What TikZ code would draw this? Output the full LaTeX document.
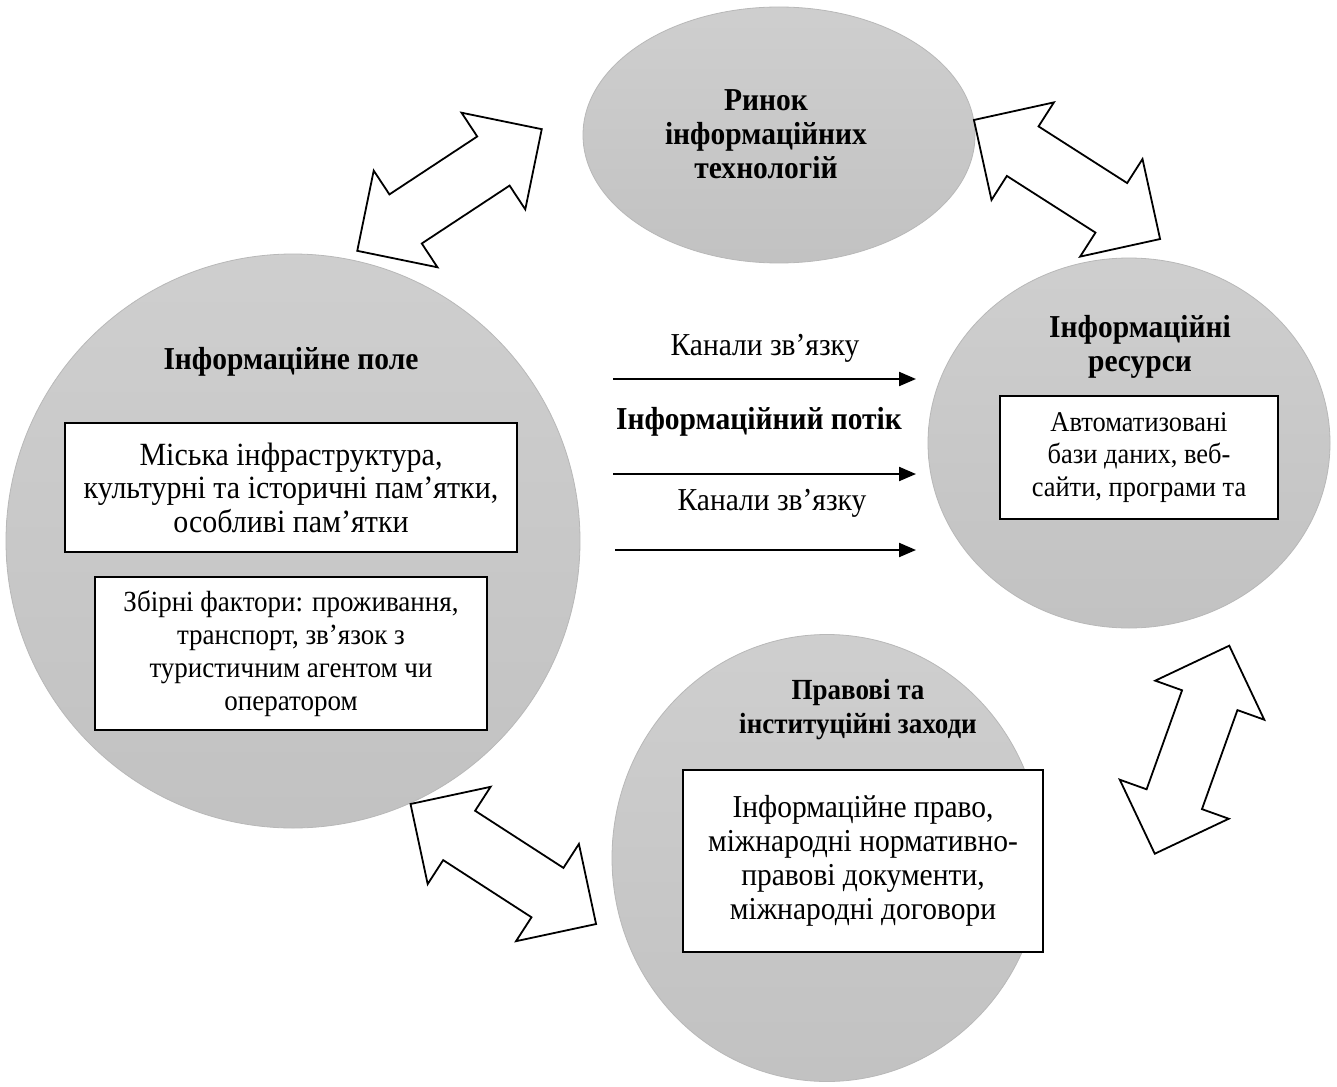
\documentclass[tikz,border=0pt]{standalone}
\usepackage{fontspec}
\setmainfont{Liberation Serif}[FakeStretch=0.925]
\usetikzlibrary{shapes.geometric,shapes.arrows,arrows.meta}
\begin{document}
\begin{tikzpicture}[x=1pt,y=-1pt,
  blob/.style={ellipse, inner sep=0pt, draw=black!28, line width=0.8pt, top color=black!19, bottom color=black!24},
  txt/.style={inner sep=0pt, align=center, font=\fontsize{31.9}{33.5}\selectfont},
  ttl/.style={inner sep=0pt, align=center, font=\fontsize{31.9}{34}\selectfont\bfseries},
  wbox/.style={draw=black, line width=2pt, fill=white, inner sep=0pt, align=center, font=\fontsize{32.4}{33.5}\selectfont},
  blockarrow/.style={double arrow, draw=black, line width=1.8pt, fill=white, minimum height=221pt, inner xsep=0pt, inner ysep=28.5pt, double arrow head extend=28.5pt, double arrow tip angle=90},
  flow/.style={line width=2.2pt, -{Triangle[length=17pt,width=14pt]}}
]
\useasboundingbox (0,0) rectangle (1337,1086);
\fill[white] (0,0) rectangle (1337,1086);

% circles
\node[blob, minimum width=392pt, minimum height=256pt] (mkt) at (779,135) {};
\node[blob, minimum width=574pt, minimum height=574pt] (fld) at (293,541) {};
\node[blob, minimum width=402pt, minimum height=370pt] (res) at (1129,443) {};
\node[blob, minimum width=430pt, minimum height=447pt] (law) at (827,858) {};

% titles
\node[ttl] (mktt) at (766,134) {Ринок\\інформаційних\\технологій};
\node[ttl] (fldt) at (291,362) {Інформаційне поле};
\node[ttl] (rest) at (1140,347) {Інформаційні\\ресурси};
\node[ttl, font=\fontsize{29.2}{34}\selectfont\bfseries] (lawt) at (858,710) {Правові та\\інституційні заходи};

% boxes
\node[wbox, minimum width=452pt, minimum height=129pt] (b1) at (291,487.5)
  {Міська інфраструктура,\\культурні та історичні пам’ятки,\\особливі пам’ятки};
\node[wbox, minimum width=392pt, minimum height=153pt, font=\fontsize{29.2}{33}\selectfont] (b2) at (291,653.5)
  {Збірні фактори: проживання,\\транспорт, зв’язок з\\туристичним агентом чи\\оператором};
\node[wbox, minimum width=278pt, minimum height=123pt, font=\fontsize{28.6}{32.5}\selectfont] (b3) at (1139,457.5)
  {Автоматизовані\\бази даних, веб-\\сайти, програми та};
\node[wbox, minimum width=360pt, minimum height=182pt, font=\fontsize{31.9}{34}\selectfont] (b4) at (863,861)
  {Інформаційне право,\\міжнародні нормативно-\\правові документи,\\міжнародні договори};

% information flow
\coordinate (s1) at (613,379); \coordinate (e1) at (916,379);
\coordinate (s2) at (613,474); \coordinate (e2) at (916,474);
\coordinate (s3) at (615,550); \coordinate (e3) at (916,550);
\draw[flow] (s1) -- (e1);
\draw[flow] (s2) -- (e2);
\draw[flow] (s3) -- (e3);
\node[txt] (k1) at (765,348) {Канали зв’язку};
\node[ttl] (flowt) at (759,422) {Інформаційний потік};
\node[txt] (k2) at (772,503) {Канали зв’язку};

% block double arrows
\node[blockarrow, rotate=33.4] (a1) at (449.5,190) {};
\node[blockarrow, rotate=-32.6] (a2) at (1067,179.5) {};
\node[blockarrow, rotate=-32.9] (a3) at (503.3,864) {};
\node[blockarrow, rotate=70.3] (a4) at (1192,749.7) {};
\end{tikzpicture}
\end{document}
